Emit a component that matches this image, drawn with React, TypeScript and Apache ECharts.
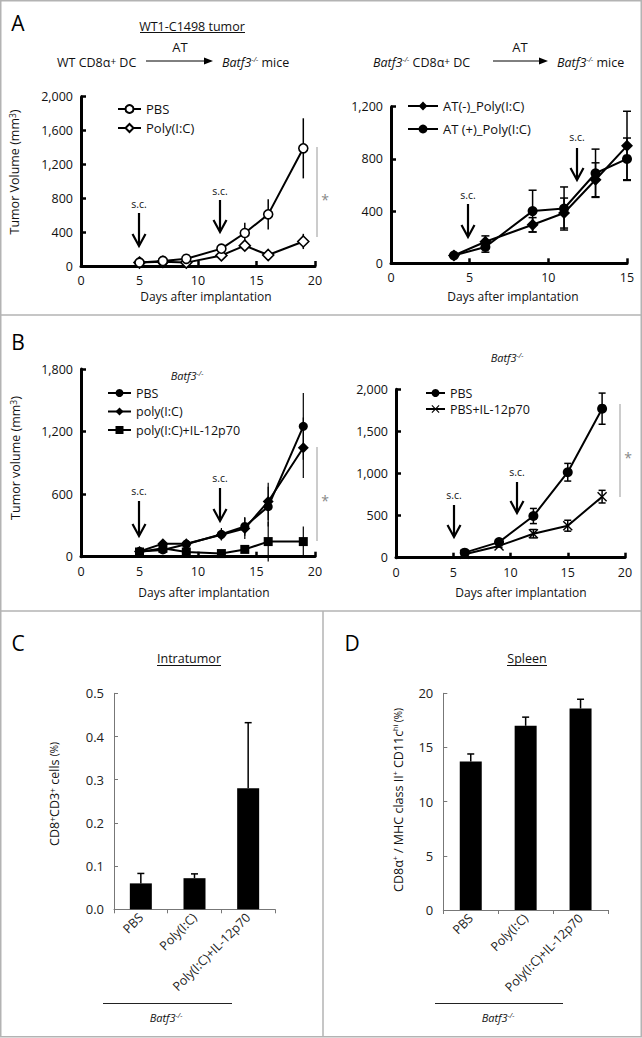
import React, { useEffect, useRef } from 'react';
import * as echarts from 'echarts';

const FONT = '"Open Sans", "Noto Sans", "DejaVu Sans", sans-serif';

// ---------- Panel A (left): WT CD8a+ DC -> Batf3-/- mice ----------
const aLeftDays = [5, 7, 9, 12, 14, 16, 19];
const aLeftPBS = [40, 60, 85, 205, 390, 610, 1390];
const aLeftPBSErr = [0, 0, 10, 25, 120, 180, 355];
const aLeftPoly = [40, 50, 40, 125, 240, 130, 290];
const aLeftPolyErr = [0, 0, 0, 20, 50, 25, 90];
const aLeftYTicks = [0, 400, 800, 1200, 1600, 2000];
const aLeftXTicks = [0, 5, 10, 15, 20];

// ---------- Panel A (right): Batf3-/- CD8a+ DC ----------
const aRightDays = [4, 6, 9, 11, 13, 15];
const aRightATminus = [60, 165, 295, 385, 640, 900];
const aRightATminusErr = [0, 45, 55, 115, 130, 265];
const aRightATplus = [60, 125, 400, 420, 690, 800];
const aRightATplusErr = [0, 40, 160, 165, 185, 160];
const aRightYTicks = [0, 400, 800, 1200];
const aRightXTicks = [0, 5, 10, 15];

// ---------- Panel B (left) ----------
const bLeftDays = [5, 7, 9, 12, 14, 16, 19];
const bLeftPBS = [50, 65, 120, 215, 290, 480, 1250];
const bLeftPBSErr = [10, 20, 20, 60, 90, 190, 320];
const bLeftPoly = [50, 125, 125, 210, 270, 530, 1045];
const bLeftPolyErr = [10, 20, 20, 50, 100, 180, 290];
const bLeftPolyIL = [45, 80, 45, 30, 70, 145, 145];
const bLeftPolyILErr = [10, 10, 10, 10, 20, 190, 145];
const bLeftYTicks = [0, 600, 1200, 1800];
const bLeftXTicks = [0, 5, 10, 15, 20];

// ---------- Panel B (right) ----------
const bRightDays = [6, 9, 12, 15, 18];
const bRightPBS = [60, 185, 495, 1015, 1770];
const bRightPBSErr = [10, 20, 90, 105, 185];
const bRightIL = [40, 140, 285, 380, 725];
const bRightILErr = [5, 15, 50, 65, 75];
const bRightYTicks = [0, 500, 1000, 1500, 2000];
const bRightXTicks = [0, 5, 10, 15, 20];

// ---------- Panel C / D ----------
const groups = ['PBS', 'Poly(I:C)', 'Poly(I:C)+IL-12p70'];
const cValues = [0.06, 0.072, 0.28];
const cErr = [0.023, 0.01, 0.152];
const cYTicks = [0, 0.1, 0.2, 0.3, 0.4, 0.5];
const dValues = [13.7, 17.0, 18.6];
const dErr = [0.7, 0.8, 0.85];
const dYTicks = [0, 5, 10, 15, 20];

const zip = (xs: number[], ys: number[]) => xs.map((x, i) => [x, ys[i]]);
const errData = (xs: number[], ys: number[], es: number[]) =>
  xs.map((x, i) => [x, ys[i] - es[i], ys[i] + es[i]]).filter((d, i) => es[i] > 0);

const errRender = (cap: number, lw: number, upOnly = false) => (params: any, api: any) => {
  const x = api.value(0);
  const lo = api.value(1);
  const hi = api.value(2);
  const top = api.coord([x, hi]);
  const bot = api.coord([x, lo]);
  const st = { stroke: '#000', lineWidth: lw };
  const children: any[] = [
    { type: 'line', shape: { x1: top[0], y1: top[1], x2: bot[0], y2: bot[1] }, style: st },
  ];
  if (cap > 0) {
    children.push({ type: 'line', shape: { x1: top[0] - cap, y1: top[1], x2: top[0] + cap, y2: top[1] }, style: st });
    if (!upOnly)
      children.push({ type: 'line', shape: { x1: bot[0] - cap, y1: bot[1], x2: bot[0] + cap, y2: bot[1] }, style: st });
  }
  return { type: 'group', children };
};

const XMARK = 'path://M1,0 L5,4 L9,0 L10,1 L6,5 L10,9 L9,10 L5,6 L1,10 L0,9 L4,5 L0,1 Z';

const valueAxis = (gridIndex: number, ticks: number[], fmt?: (v: number) => string) => ({
  type: 'value',
  gridIndex,
  min: ticks[0],
  max: ticks[ticks.length - 1],
  interval: ticks[1] - ticks[0],
  axisLine: { show: true, onZero: false, lineStyle: { color: '#000', width: 3 } },
  axisTick: { show: true, inside: true, length: 5, lineStyle: { color: '#000', width: 2.5 } },
  axisLabel: {
    show: true,
    fontFamily: FONT,
    fontSize: 12.5,
    color: '#111',
    margin: 8,
    showMinLabel: true,
    showMaxLabel: true,
    formatter: fmt || ((v: number) => v.toLocaleString('en-US')),
  },
  splitLine: { show: false },
});

const barYAxis = (gridIndex: number, ticks: number[], fmt: (v: number) => string) => ({
  type: 'value',
  gridIndex,
  min: ticks[0],
  max: ticks[ticks.length - 1],
  interval: ticks[1] - ticks[0],
  axisLine: { show: true, lineStyle: { color: '#777', width: 1 } },
  axisTick: { show: true, inside: true, length: 4, lineStyle: { color: '#777', width: 1 } },
  axisLabel: { fontFamily: FONT, fontSize: 13, color: '#222', margin: 10, formatter: fmt, showMinLabel: true, showMaxLabel: true },
  splitLine: { show: false },
});

const barXAxis = (gridIndex: number) => ({
  type: 'category',
  gridIndex,
  data: groups,
  axisLine: { show: true, lineStyle: { color: '#777', width: 1 } },
  axisTick: { show: true, length: 4, lineStyle: { color: '#777', width: 1 } },
  axisLabel: { interval: 0, rotate: 45, fontFamily: FONT, fontSize: 12.5, color: '#222', margin: 6 },
});

const lineSeries = (name: string, idx: number, xs: number[], ys: number[], symbol: string, size: number, open = false) => ({
  type: 'line',
  name,
  xAxisIndex: idx,
  yAxisIndex: idx,
  data: zip(xs, ys),
  symbol,
  symbolSize: size,
  showAllSymbol: true,
  itemStyle: open
    ? { color: '#fff', borderColor: '#000', borderWidth: 1.6 }
    : { color: '#000', borderColor: '#000', borderWidth: 0 },
  lineStyle: { color: '#000', width: 2 },
  z: 4,
});

const errSeries = (idx: number, data: number[][], cap: number, lw: number, upOnly = false) => ({
  type: 'custom',
  xAxisIndex: idx,
  yAxisIndex: idx,
  data,
  encode: { x: 0, y: [1, 2] },
  renderItem: errRender(cap, lw, upOnly),
  z: 2,
  silent: true,
});

// ---------- graphic helpers ----------
const G: any[] = [];
const txt = (x: number, y: number, text: string, o: any = {}) =>
  G.push({
    type: 'text',
    x,
    y,
    rotation: o.rotation || 0,
    style: {
      text,
      fill: o.color || '#111',
      fontFamily: FONT,
      fontSize: o.size || 12.5,
      fontStyle: o.italic ? 'italic' : 'normal',
      align: o.align || 'center',
      verticalAlign: 'middle',
      rich: o.rich,
    },
  });
const ln = (x1: number, y1: number, x2: number, y2: number, color = '#000', w = 1) =>
  G.push({ type: 'line', shape: { x1, y1, x2, y2 }, style: { stroke: color, lineWidth: w } });
const downArrow = (x: number, yTop: number, yTip: number) => {
  ln(x, yTop, x, yTip - 1, '#000', 2.2);
  G.push({
    type: 'polyline',
    shape: { points: [[x - 6.5, yTip - 12], [x, yTip], [x + 6.5, yTip - 12]] },
    style: { stroke: '#000', lineWidth: 2.2, fill: null },
  });
};
const rightArrow = (x1: number, x2: number, y: number) => {
  ln(x1, y, x2 - 6, y, '#000', 1);
  G.push({ type: 'polygon', shape: { points: [[x2 - 9, y - 3.5], [x2, y], [x2 - 9, y + 3.5]] }, style: { fill: '#000' } });
};

const R = {
  n: { fontFamily: FONT, fontSize: 12.5, fill: '#111' },
  i: { fontFamily: FONT, fontSize: 12.5, fontStyle: 'italic', fill: '#111' },
  is: { fontFamily: FONT, fontSize: 11, fontStyle: 'italic', fill: '#111' },
  sup: { fontFamily: FONT, fontSize: 8.5, verticalAlign: 'top', fill: '#111' },
  supS: { fontFamily: FONT, fontSize: 7, verticalAlign: 'top', fill: '#111' },
  supI: { fontFamily: FONT, fontSize: 7, fontStyle: 'italic', verticalAlign: 'top', fill: '#111' },
  bsup: { fontFamily: FONT, fontSize: 10, verticalAlign: 'top', fill: '#111' },
  sm: { fontFamily: FONT, fontSize: 10, fill: '#111' },
};

// frame & separators
G.push({ type: 'rect', shape: { x: 0.75, y: 0.75, width: 640.5, height: 1036 }, style: { stroke: '#b3b3b3', lineWidth: 1.5, fill: null } });
ln(0, 315, 642, 315, '#b3b3b3', 1.5);
ln(0, 611, 642, 611, '#b3b3b3', 1.5);
ln(323, 611, 323, 1037, '#b3b3b3', 1.5);

// panel letters
txt(18, 23, 'A', { size: 21, color: '#000' });
txt(18, 342, 'B', { size: 21, color: '#000' });
txt(18, 643, 'C', { size: 21, color: '#000' });
txt(352, 643, 'D', { size: 21, color: '#000' });

// Panel A header
txt(192, 26, 'WT1-C1498 tumor', { size: 12.5 });
ln(140, 32.5, 245, 32.5, '#111', 1);
txt(57, 62, '{n|WT CD8α}{bsup|+}{n| DC}', { align: 'left', rich: R });
rightArrow(146, 213, 61);
txt(180, 47, 'AT', { size: 13 });
txt(222, 62, '{i|Batf3}{supI|-/-}{n| mice}', { align: 'left', rich: R });
txt(373, 62, '{i|Batf3}{supI|-/-}{n| CD8α}{bsup|+}{n| DC}', { align: 'left', rich: R });
rightArrow(493, 548, 61);
txt(520, 47, 'AT', { size: 13 });
txt(557, 62, '{i|Batf3}{supI|-/-}{n| mice}', { align: 'left', rich: R });

// axis titles
txt(14, 172, '{n|Tumor Volume (mm}{sup|3}{n|)}', { rotation: Math.PI / 2, rich: R });
txt(206, 296, 'Days after implantation', { size: 12 });
txt(513, 296, 'Days after implantation', { size: 12 });
txt(15, 458, '{n|Tumor volume (mm}{sup|3}{n|)}', { rotation: Math.PI / 2, rich: R });
txt(204, 592, 'Days after implantation', { size: 12 });
txt(521, 592, 'Days after implantation', { size: 12 });
txt(187, 375, '{is|Batf3}{supI|-/-}', { rich: R });
txt(507, 357, '{is|Batf3}{supI|-/-}', { rich: R });

// s.c. arrows  [x, textY, shaftTop, tip]
const scMarks = [
  [139, 204, 213, 246], [220, 191, 200, 232],
  [468, 195, 204, 237], [577, 137, 148, 180],
  [139, 491, 501, 536], [220, 478, 488, 521],
  [454, 495, 505, 537], [517, 472, 482, 513],
];
scMarks.forEach(([x, ty, y1, y2]) => {
  txt(x, ty, 's.c.', { size: 10.5 });
  downArrow(x, y1, y2);
});

// significance
ln(317, 147, 317, 237, '#999', 1);
txt(325, 199, '*', { size: 14, color: '#888' });
ln(317, 447, 317, 541, '#999', 1);
txt(325, 500, '*', { size: 14, color: '#888' });
ln(620, 404, 620, 497, '#999', 1);
txt(628, 457, '*', { size: 14, color: '#888' });

// Panel C/D titles
txt(189, 658, 'Intratumor', { size: 12.5 });
ln(157, 665.5, 221, 665.5, '#111', 1);
txt(527, 658, 'Spleen', { size: 12.5 });
ln(507, 665.5, 547, 665.5, '#111', 1);
txt(54, 794, '{n|CD8}{sup|+}{n|CD3}{sup|+}{n| cells }{sm|(%)}', { rotation: Math.PI / 2, rich: R });
txt(398, 800, '{n|CD8α}{supS|+}{n| / MHC class II}{supS|+}{n| CD11c}{supS|hi}{sm| (%)}', { rotation: Math.PI / 2, rich: R });
ln(103, 1003.5, 232, 1003.5, '#222', 1);
txt(166, 1017, '{is|Batf3}{supI|-/-}', { rich: R });
ln(435, 1003.5, 563, 1003.5, '#222', 1);
txt(498, 1017, '{is|Batf3}{supI|-/-}', { rich: R });

const strip = (name: string) => name.replace(/^\S+ /, '');
const legendBase = (fs: number, lh: number) => ({
  orient: 'vertical',
  selectedMode: false,
  formatter: strip,
  padding: 0,
  textStyle: { fontFamily: FONT, fontSize: fs, lineHeight: lh, color: '#111' },
});

export default function App() {
  const ref = useRef<HTMLDivElement>(null);
  useEffect(() => {
    document.body.style.margin = '0';
    const chart = echarts.init(ref.current!, undefined, { renderer: 'svg' });
    const option: any = {
      animation: false,
      backgroundColor: '#fff',
      grid: [
        { left: 81, top: 96.7, width: 234, height: 169.3 },
        { left: 391, top: 106.7, width: 236, height: 156.6 },
        { left: 81, top: 369, width: 234, height: 187.7 },
        { left: 396, top: 389.3, width: 229, height: 168.4 },
        { left: 114, top: 693.3, width: 161, height: 216 },
        { left: 443.3, top: 693.3, width: 164.7, height: 216.7 },
      ].map((g) => ({ ...g, containLabel: false, outerBoundsMode: 'none' })),
      xAxis: [
        valueAxis(0, aLeftXTicks),
        valueAxis(1, aRightXTicks),
        valueAxis(2, bLeftXTicks),
        valueAxis(3, bRightXTicks),
        barXAxis(4),
        barXAxis(5),
      ],
      yAxis: [
        valueAxis(0, aLeftYTicks),
        valueAxis(1, aRightYTicks),
        valueAxis(2, bLeftYTicks),
        valueAxis(3, bRightYTicks),
        barYAxis(4, cYTicks, (v: number) => v.toFixed(1)),
        barYAxis(5, dYTicks, (v: number) => String(v)),
      ],
      legend: [
        { ...legendBase(13, 15), data: ['A1 PBS', 'A1 Poly(I:C)'], left: 117, top: 101.5, itemWidth: 23, itemHeight: 10, itemGap: 4 },
        { ...legendBase(13, 15), data: ['A2 AT(-)_Poly(I:C)', 'A2 AT (+)_Poly(I:C)'], left: 407, top: 98.5, itemWidth: 30, itemHeight: 11, itemGap: 8 },
        { ...legendBase(12.5, 14), data: ['B1 PBS', 'B1 poly(I:C)', 'B1 poly(I:C)+IL-12p70'], left: 107, top: 386, itemWidth: 23, itemHeight: 10, itemGap: 4.5 },
        { ...legendBase(12.5, 14), data: ['B2 PBS', 'B2 PBS+IL-12p70'], left: 425, top: 386, itemWidth: 19, itemHeight: 10, itemGap: 2 },
      ],
      series: [
        // A left
        errSeries(0, errData(aLeftDays, aLeftPBS, aLeftPBSErr), 0, 1.5),
        errSeries(0, errData(aLeftDays, aLeftPoly, aLeftPolyErr), 0, 1.5),
        lineSeries('A1 Poly(I:C)', 0, aLeftDays, aLeftPoly, 'diamond', 11, true),
        lineSeries('A1 PBS', 0, aLeftDays, aLeftPBS, 'circle', 9, true),
        // A right
        errSeries(1, errData(aRightDays, aRightATminus, aRightATminusErr), 4, 1.5),
        errSeries(1, errData(aRightDays, aRightATplus, aRightATplusErr), 4, 1.5),
        lineSeries('A2 AT(-)_Poly(I:C)', 1, aRightDays, aRightATminus, 'diamond', 12),
        lineSeries('A2 AT (+)_Poly(I:C)', 1, aRightDays, aRightATplus, 'circle', 10),
        // B left
        errSeries(2, errData(bLeftDays, bLeftPBS, bLeftPBSErr), 0, 1.2),
        errSeries(2, errData(bLeftDays, bLeftPoly, bLeftPolyErr), 0, 1.2),
        errSeries(2, errData(bLeftDays, bLeftPolyIL, bLeftPolyILErr), 0, 1.2),
        lineSeries('B1 PBS', 2, bLeftDays, bLeftPBS, 'circle', 9),
        lineSeries('B1 poly(I:C)', 2, bLeftDays, bLeftPoly, 'diamond', 11),
        lineSeries('B1 poly(I:C)+IL-12p70', 2, bLeftDays, bLeftPolyIL, 'rect', 9),
        // B right
        errSeries(3, errData(bRightDays, bRightPBS, bRightPBSErr), 3.5, 1.5),
        errSeries(3, errData(bRightDays, bRightIL, bRightILErr), 3.5, 1.5),
        lineSeries('B2 PBS', 3, bRightDays, bRightPBS, 'circle', 10),
        lineSeries('B2 PBS+IL-12p70', 3, bRightDays, bRightIL, XMARK, 10),
        // C
        {
          type: 'bar', xAxisIndex: 4, yAxisIndex: 4, data: cValues, barWidth: 22,
          itemStyle: { color: '#000' }, z: 2,
        },
        errSeries(4, groups.map((g, i) => [i, cValues[i], cValues[i] + cErr[i]]), 3.5, 1.5, true),
        // D
        {
          type: 'bar', xAxisIndex: 5, yAxisIndex: 5, data: dValues, barWidth: 22,
          itemStyle: { color: '#000' }, z: 2,
        },
        errSeries(5, groups.map((g, i) => [i, dValues[i], dValues[i] + dErr[i]]), 3.5, 1.5, true),
      ],
      graphic: { elements: G },
    };
    chart.setOption(option);
    return () => chart.dispose();
  }, []);
  return <div ref={ref} style={{ width: 642, height: 1038 }} />;
}
